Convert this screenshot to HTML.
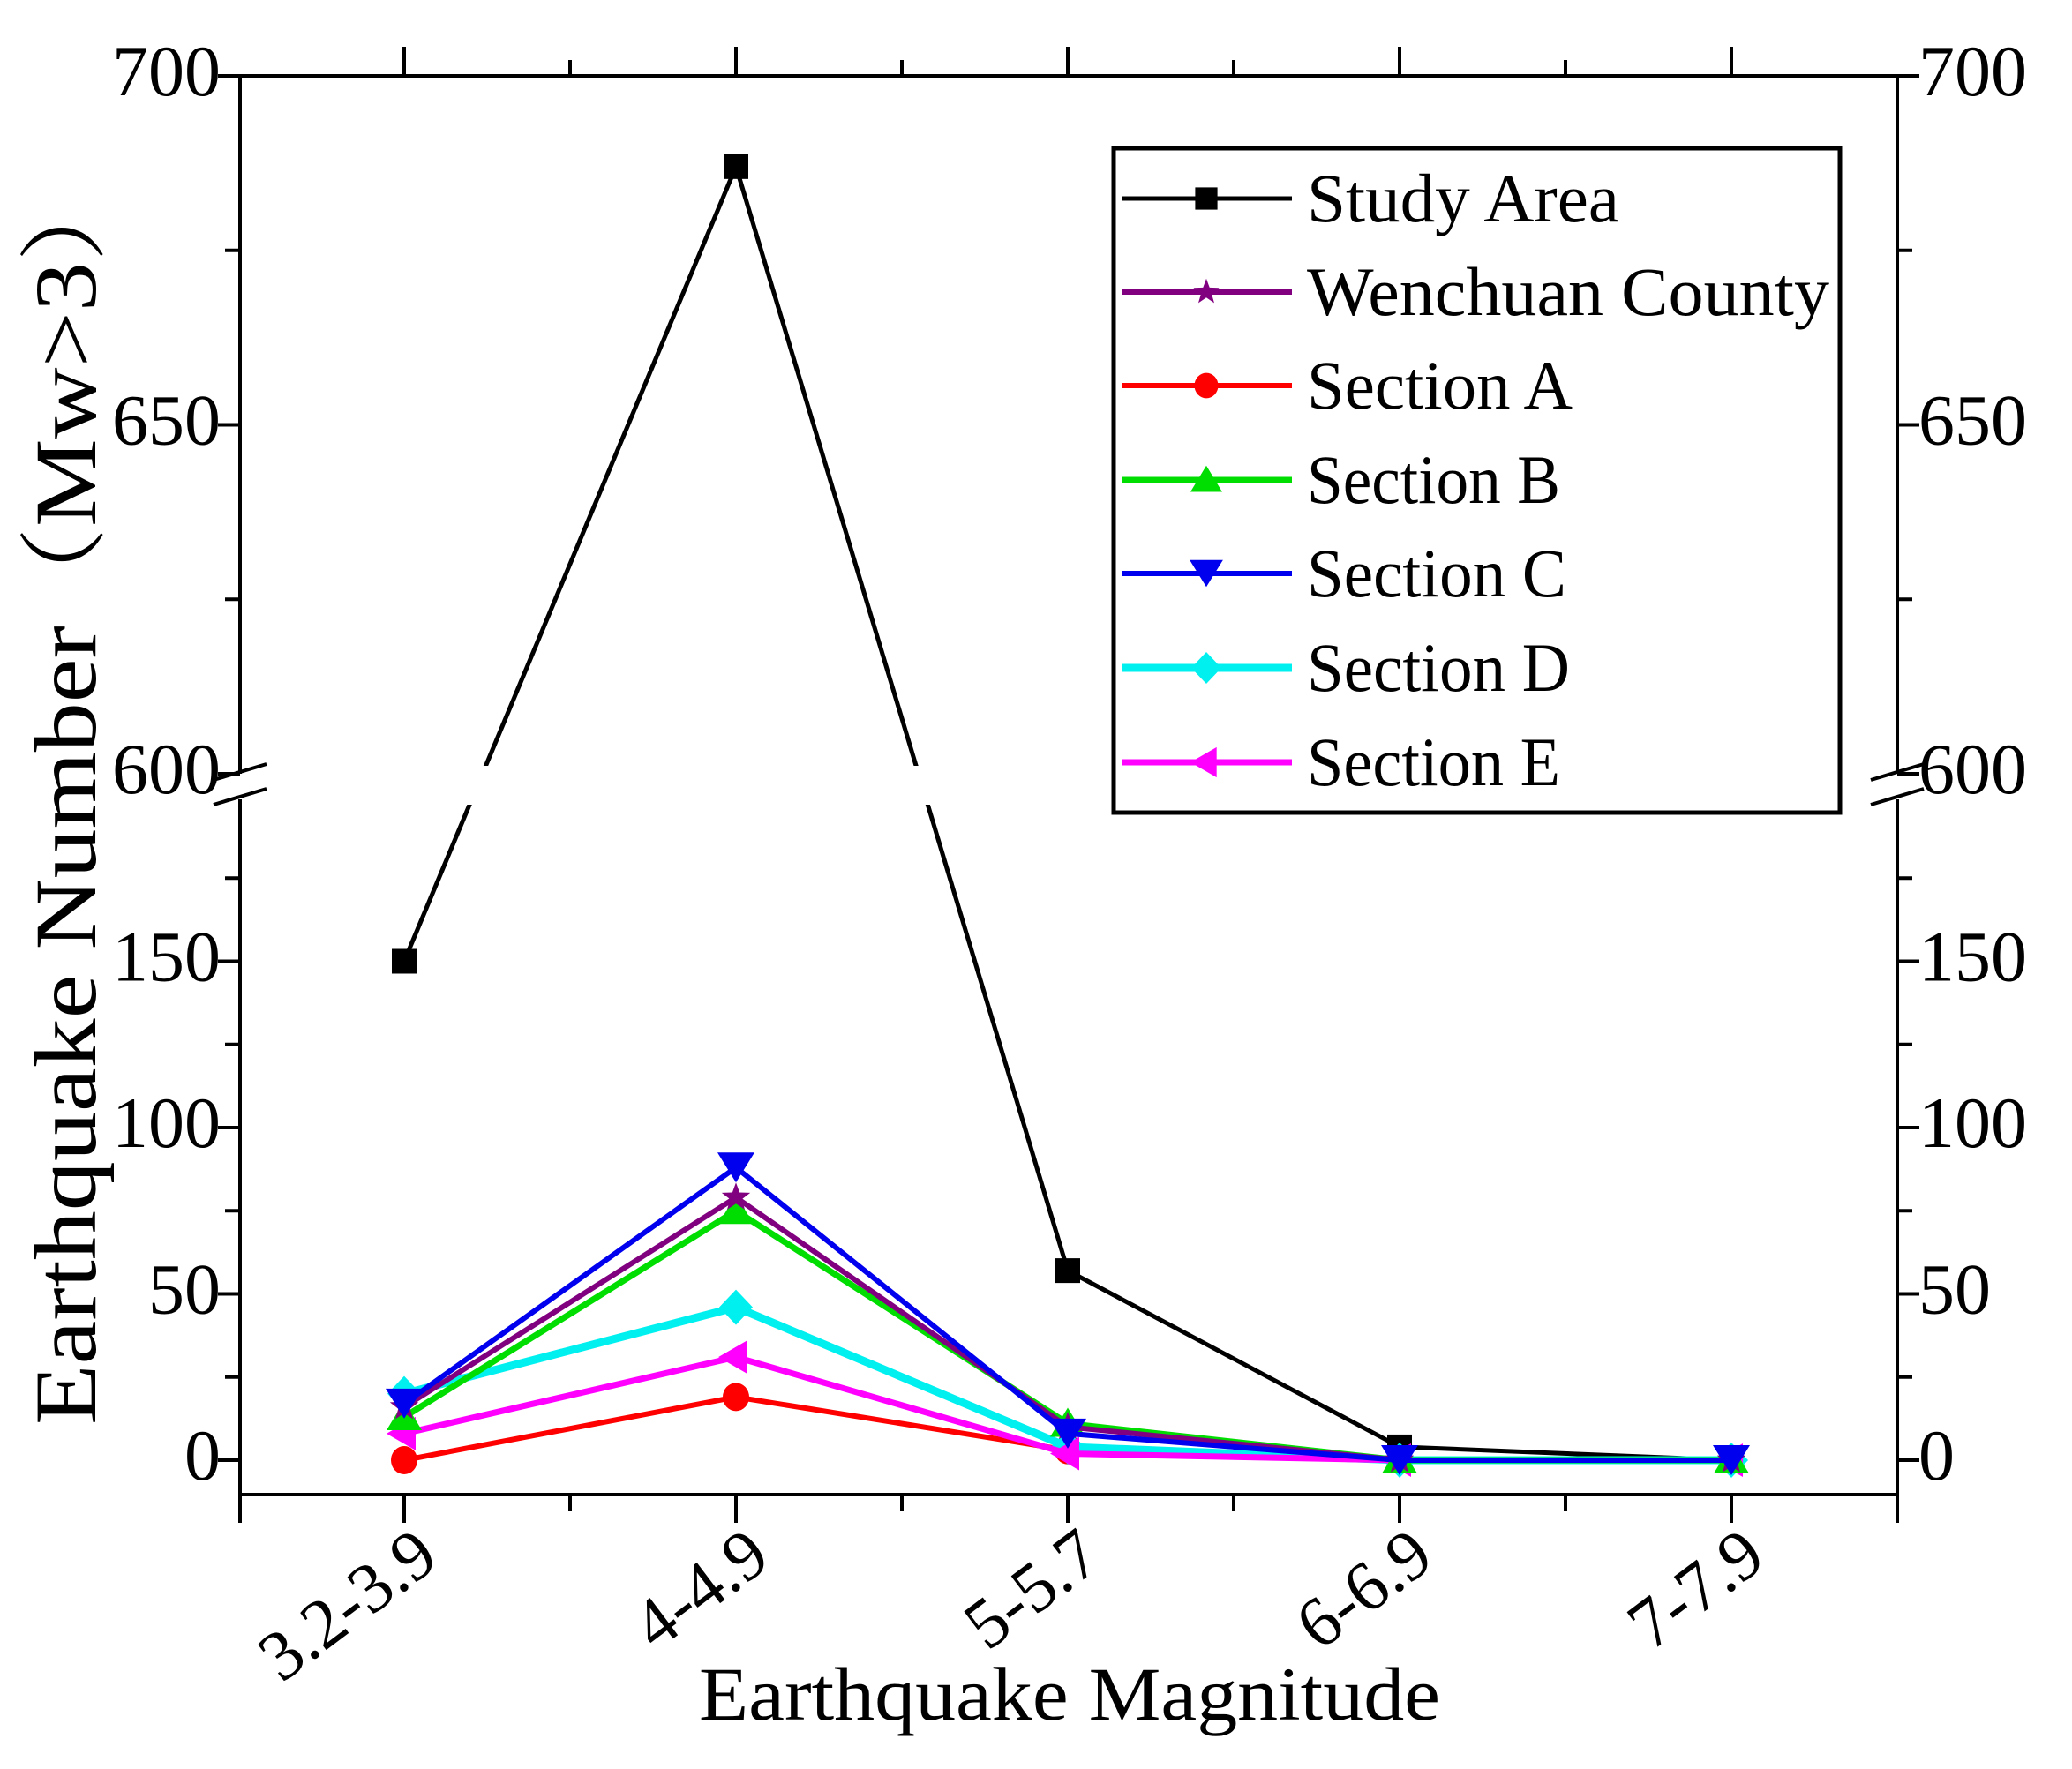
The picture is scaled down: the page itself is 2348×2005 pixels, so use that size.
<!DOCTYPE html>
<html><head><meta charset="utf-8"><style>html,body{margin:0;padding:0;background:#fff}svg{display:block}</style></head>
<body>
<svg id="chart" width="2348" height="2005" viewBox="0 0 2348 2005" xmlns="http://www.w3.org/2000/svg" font-family="'Liberation Serif', serif">
<rect width="2348" height="2005" fill="#fff"/>
<g id="marks"></g>
<g id="axes"></g>
<g id="legend"></g>
</svg>
<script>
const categories = ["3.2-3.9","4-4.9","5-5.7","6-6.9","7-7.9"];
const studyArea = [150, 687, 57, 4, 0];
const wenchuan = [16, 79, 10, 0, 0];
const sectionA = [0, 19, 3, 0, 0];
const sectionB = [13, 75, 11, 0, 0];
const sectionC = [17, 88, 8, 0, 0];
const sectionD = [20, 46, 4, 0, 0];
const sectionE = [8, 31, 2, 0, 0];
const lowerTicks = [0, 50, 100, 150];
const upperTicks = [600, 650, 700];
const seriesNames = ["Study Area","Wenchuan County","Section A","Section B","Section C","Section D","Section E"];

const NS = "http://www.w3.org/2000/svg";
const L = 272, R = 2150, T = 86, B = 1694;
function xPos(i){ return 458 + i * 376; }
function yPos(v){ return v >= 400 ? 877 - (v - 600) * 7.91 : 1655 - v * 3.77; }
function mk(tag, attrs, parent){ const e = document.createElementNS(NS, tag); for (const k in attrs) e.setAttribute(k, attrs[k]); parent.appendChild(e); return e; }

const marks = document.getElementById('marks');
const axes = document.getElementById('axes');
const legend = document.getElementById('legend');

function marker(shape, cx, cy, color, parent, s){
  s = s || 1;
  let e;
  if (shape === 'square') e = mk('rect', {x: cx-14*s, y: cy-14*s, width: 28*s, height: 28*s, fill: color}, parent);
  else if (shape === 'circle') e = mk('ellipse', {cx: cx, cy: cy, rx: 15*s, ry: 16*s, fill: color}, parent);
  else if (shape === 'up') e = mk('polygon', {points: `${cx-20*s},${cy+15*s} ${cx+20*s},${cy+15*s} ${cx},${cy-18*s}`, fill: color}, parent);
  else if (shape === 'down') e = mk('polygon', {points: `${cx-21*s},${cy-17*s} ${cx+21*s},${cy-17*s} ${cx},${cy+17*s}`, fill: color}, parent);
  else if (shape === 'diamond') e = mk('polygon', {points: `${cx},${cy-20*s} ${cx+19*s},${cy} ${cx},${cy+20*s} ${cx-19*s},${cy}`, fill: color}, parent);
  else if (shape === 'left') e = mk('polygon', {points: `${cx-20*s},${cy} ${cx+13*s},${cy-19*s} ${cx+13*s},${cy+19*s}`, fill: color}, parent);
  else if (shape === 'star') {
    const pts = [];
    for (let k = 0; k < 10; k++) { const r = k % 2 ? 7*s : 17*s; const a = -Math.PI/2 + k*Math.PI/5; pts.push((cx + r*Math.cos(a)).toFixed(1) + ',' + (cy + r*Math.sin(a)).toFixed(1)); }
    e = mk('polygon', {points: pts.join(' '), fill: color}, parent);
  }
  return e;
}

const series = [
  {name: 'study-area', vals: studyArea, color: '#000', shape: 'square', w: 5},
  {name: 'wenchuan-county', vals: wenchuan, color: '#800080', shape: 'star', w: 6},
  {name: 'section-a', vals: sectionA, color: '#ff0000', shape: 'circle', w: 6},
  {name: 'section-b', vals: sectionB, color: '#00dd00', shape: 'up', w: 7},
  {name: 'section-c', vals: sectionC, color: '#0000ee', shape: 'down', w: 6},
  {name: 'section-d', vals: sectionD, color: '#00f0f0', shape: 'diamond', w: 9},
  {name: 'section-e', vals: sectionE, color: '#ff00ff', shape: 'left', w: 7}
];
const drawOrder = [0, 2, 5, 6, 3, 1, 4];
drawOrder.forEach(si => {
  const s = series[si];
  const g = mk('g', {}, marks);
  
  
  const pts = s.vals.map((v, i) => xPos(i) + ',' + yPos(v).toFixed(1)).join(' ');
  const pl = mk('polyline', {points: pts, fill: 'none', stroke: s.color, 'stroke-width': s.w, 'stroke-linejoin': 'miter'}, g);
  
  
  s.vals.forEach((v, i) => {
    const m = marker(s.shape, xPos(i), yPos(v), s.color, g);
    
    
  });
});
const gap = mk('rect', {x: L+3, y: 868, width: R-L-6, height: 44, fill: '#fff'}, marks);



function line(x1,y1,x2,y2,name,w){ const e = mk('line', {x1,y1,x2,y2,stroke:'#000','stroke-width':w||4}, axes);   return e; }
line(L, T, R, T, 'top-axis');
line(L, B, R, B, 'x-axis');
line(L, T, L, 877, 'y-axis-upper');
line(L, 906, L, B, 'y-axis-lower');
line(R, T, R, 877, 'right-axis-upper');
line(R, 906, R, B, 'right-axis-lower');
[L, R].forEach(x => {
  line(x-30, 884, x+30, 866, 'axis-break-slash', 4);
  line(x-30, 912, x+30, 894, 'axis-break-slash', 4);
});
for (let i = 0; i < 5; i++) {
  const x = xPos(i);
  line(x, B, x, B+32, 'x-major-tick', 4);
  line(x, T, x, T-33, 'top-major-tick', 4);
}
for (let i = -1; i < 5; i++) {
  const x = xPos(i) + 188;
  if (x <= L || x >= R) continue;
  line(x, B, x, B+19, 'x-minor-tick', 4);
  line(x, T, x, T-18, 'top-minor-tick', 4);
}
line(L, B, L, B+32, 'x-end-tick', 4);
line(R, B, R, B+32, 'x-end-tick', 4);
lowerTicks.concat(upperTicks).forEach(v => {
  const y = yPos(v);
  const n = String(v).length;
  line(L-25, y, L, y, 'y-major-tick', 4);
  line(R, y, R+25, y, 'right-major-tick', 4);
  const t1 = mk('text', {x: L-22, y: y+22, 'font-size': 82, 'text-anchor': 'end', textLength: 41*n, lengthAdjust: 'spacingAndGlyphs', fill: '#000'}, axes);
  t1.textContent = String(v);
  
  
  const t2 = mk('text', {x: R+24, y: y+22, 'font-size': 82, 'text-anchor': 'start', textLength: 41*n, lengthAdjust: 'spacingAndGlyphs', fill: '#000'}, axes);
  t2.textContent = String(v);
  
  
});
[25, 75, 125, 175, 625, 675].forEach(v => {
  const y = yPos(v);
  line(L-17, y, L, y, 'y-minor-tick', 4);
  line(R, y, R+17, y, 'right-minor-tick', 4);
});
categories.forEach((c, i) => {
  const x = xPos(i) + 42, y = 1772;
  const t = mk('text', {x, y, 'font-size': 80, 'text-anchor': 'end', transform: `rotate(-37 ${x} ${y})`, fill: '#000'}, axes);
  t.textContent = c;
  
  
});
const xt = mk('text', {x: 1212, y: 1949, 'font-size': 86, 'text-anchor': 'middle', textLength: 840, lengthAdjust: 'spacingAndGlyphs', fill: '#000'}, axes);
xt.textContent = 'Earthquake Magnitude';


const yt = mk('text', {x: 0, y: 0, 'font-size': 100, 'text-anchor': 'middle', textLength: 1430, lengthAdjust: 'spacingAndGlyphs', transform: 'translate(108 900) rotate(-90)', fill: '#000', 'font-family': "'Liberation Serif','Noto Serif CJK SC',serif"}, axes);
yt.textContent = 'Earthquake Number（Mw>3）';



const box = mk('rect', {x: 1262, y: 168, width: 823, height: 753, fill: '#fff', stroke: '#000', 'stroke-width': 5}, legend);


const legY = [225, 331, 437, 544, 650, 757, 864];
const legLen = [354, 592, 301, 287, 294, 298, 287];
series.forEach((s, i) => {
  const g = mk('g', {}, legend);
  
  
  const y = legY[i];
  mk('line', {x1: 1271, y1: y, x2: 1464, y2: y, stroke: s.color, 'stroke-width': s.w}, g);
  marker(s.shape, 1367, y, s.color, g, 0.9);
  const t = mk('text', {x: 1481, y: y + 26, 'font-size': 78, textLength: legLen[i], lengthAdjust: 'spacingAndGlyphs', fill: '#000'}, g);
  t.textContent = seriesNames[i];
});
</script>
</body></html>
